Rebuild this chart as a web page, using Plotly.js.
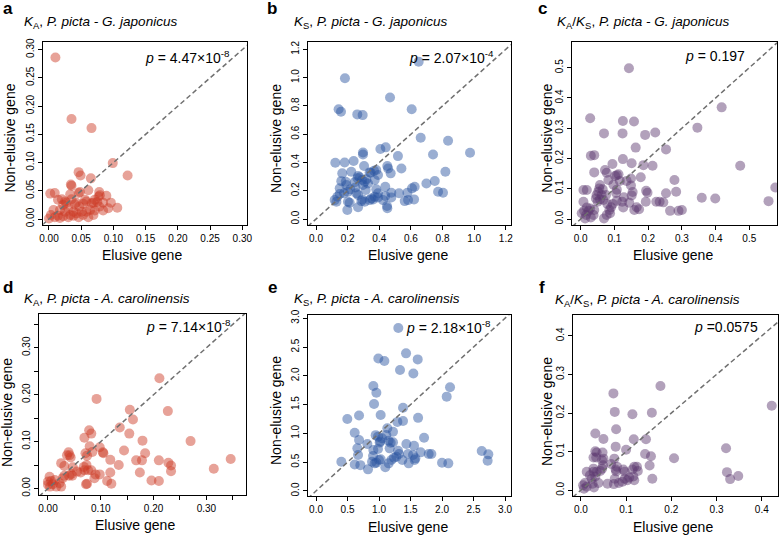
<!DOCTYPE html>
<html><head><meta charset="utf-8">
<script src="https://cdn.plot.ly/plotly-3.0.1.min.js"></script>
<style>html,body{margin:0;padding:0;background:#fff}#chart{width:779px;height:535px}</style>
</head><body><div id="chart"></div><script>
// ---- data ----
const aElusive = [0.010,0.035,0.066,0.099,0.122,0.046,0.049,0.034,0.035,0.065,0.009,0.002,0.014,0.025,0.027,0.033,0.046,0.048,0.061,0.078,0.077,0.079,0.089,0.096,0.092,0.106,0.071,0.066,0.058,0.053,0.047,0.040,0.038,0.030,0.022,0.017,0.007,0.003,0.009,0.014,0.022,0.030,0.038,0.046,0.053,0.061,0.069,0.058,0.064,0.071,0.078,0.084,0.051,0.043,0.017,0.000,0.025,0.033,0.056,0.069,0.084,0.035,0.042,0.020,0.075];
const aNonElusive = [0.286,0.177,0.161,0.099,0.077,0.083,0.077,0.061,0.059,0.072,0.046,0.045,0.034,0.031,0.029,0.044,0.046,0.048,0.051,0.048,0.040,0.042,0.041,0.029,0.019,0.020,0.034,0.028,0.031,0.027,0.022,0.026,0.013,0.019,0.025,0.016,0.016,0.007,0.003,0.006,0.005,0.003,0.006,0.003,0.007,0.003,0.007,0.013,0.016,0.015,0.022,0.015,0.013,0.010,0.002,0.001,0.013,0.007,0.034,0.029,0.029,0.035,0.029,0.035,0.030];

const bElusive = [0.183,0.143,0.158,0.261,0.295,0.468,0.649,0.605,0.122,0.181,0.238,0.297,0.297,0.407,0.441,0.518,0.662,0.835,0.974,0.740,0.818,0.751,0.698,0.772,0.803,0.624,0.607,0.578,0.620,0.582,0.561,0.525,0.476,0.476,0.438,0.540,0.451,0.456,0.472,0.381,0.392,0.367,0.346,0.304,0.223,0.166,0.160,0.188,0.266,0.276,0.262,0.291,0.308,0.318,0.329,0.339,0.371,0.297,0.250,0.217,0.192,0.202,0.177,0.150,0.135,0.118,0.129,0.202,0.213,0.198,0.266,0.255,0.266,0.293,0.308,0.287,0.340,0.350,0.361,0.371,0.392,0.381,0.392,0.424,0.438,0.449,0.451,0.314,0.245,0.150];
const bNonElusive = [0.995,0.776,0.759,0.740,0.735,0.860,1.113,0.776,0.398,0.400,0.410,0.471,0.456,0.495,0.507,0.445,0.575,0.554,0.469,0.457,0.335,0.269,0.252,0.193,0.186,0.228,0.217,0.186,0.139,0.134,0.127,0.182,0.186,0.153,0.228,0.358,0.375,0.358,0.323,0.347,0.311,0.342,0.328,0.375,0.335,0.323,0.268,0.264,0.304,0.295,0.288,0.276,0.264,0.281,0.252,0.330,0.276,0.241,0.224,0.210,0.241,0.193,0.182,0.177,0.158,0.134,0.122,0.122,0.115,0.064,0.083,0.182,0.170,0.139,0.122,0.127,0.134,0.146,0.139,0.158,0.153,0.210,0.182,0.134,0.163,0.092,0.076,0.205,0.261,0.217];

const cElusive = [0.143,0.028,0.069,0.124,0.125,0.158,0.191,0.221,0.163,0.253,0.346,0.418,0.473,0.577,0.557,0.399,0.359,0.278,0.283,0.253,0.030,0.040,0.125,0.094,0.151,0.213,0.040,0.072,0.077,0.107,0.112,0.102,0.082,0.149,0.178,0.136,0.116,0.194,0.198,0.149,0.154,0.151,0.097,0.107,0.105,0.008,0.018,0.057,0.055,0.052,0.047,0.062,0.045,0.057,0.067,0.075,0.079,0.065,0.050,0.128,0.107,0.123,0.144,0.126,0.159,0.173,0.166,0.193,0.224,0.234,0.245,0.265,0.290,0.300,0.095,0.090,0.085,0.069,0.077,0.087,0.008,0.018,0.028,0.010,0.023,0.003,0.016,0.030,0.038,0.013,0.040,0.186];
const cNonElusive = [0.498,0.333,0.283,0.283,0.324,0.322,0.278,0.286,0.236,0.230,0.302,0.369,0.176,0.104,0.059,0.068,0.070,0.129,0.090,0.085,0.209,0.211,0.198,0.182,0.184,0.176,0.154,0.162,0.153,0.145,0.148,0.142,0.129,0.134,0.138,0.126,0.126,0.093,0.087,0.111,0.089,0.078,0.113,0.097,0.086,0.096,0.096,0.112,0.101,0.090,0.079,0.079,0.068,0.065,0.063,0.079,0.050,0.098,0.057,0.072,0.060,0.057,0.054,0.038,0.030,0.032,0.039,0.057,0.057,0.057,0.055,0.027,0.027,0.030,0.050,0.039,0.030,0.002,0.013,0.019,0.057,0.038,0.035,0.027,0.027,0.019,0.013,0.005,0.013,0.002,0.030,0.178];

const dElusive = [0.211,0.092,0.227,0.155,0.161,0.136,0.154,0.078,0.082,0.069,0.179,0.270,0.098,0.104,0.105,0.079,0.084,0.071,0.074,0.039,0.041,0.036,0.043,0.144,0.184,0.118,0.167,0.178,0.210,0.228,0.233,0.233,0.314,0.346,0.134,0.174,0.118,0.112,0.120,0.196,0.210,0.025,0.031,0.047,0.044,0.040,0.055,0.062,0.068,0.073,0.076,0.069,0.082,0.090,0.098,0.088,0.072,0.031,0.028,0.022,0.016,0.025,0.003,0.000,0.006,0.013,0.000,0.004,0.009,0.046,0.074];
const dNonElusive = [0.235,0.191,0.165,0.168,0.147,0.130,0.117,0.124,0.117,0.108,0.102,0.101,0.088,0.077,0.075,0.090,0.078,0.075,0.070,0.077,0.071,0.071,0.066,0.081,0.075,0.061,0.060,0.060,0.060,0.055,0.049,0.037,0.042,0.063,0.050,0.034,0.034,0.016,0.010,0.017,0.016,0.054,0.048,0.045,0.031,0.027,0.036,0.034,0.046,0.050,0.039,0.039,0.039,0.030,0.030,0.022,0.009,0.027,0.022,0.011,0.004,0.004,0.025,0.015,0.016,0.018,0.008,0.004,0.009,0.027,0.010];

const eElusive = [0.497,0.683,0.614,0.683,0.656,0.667,0.614,0.704,0.402,0.825,0.815,0.910,0.905,0.889,0.931,0.958,1.000,1.026,0.984,0.947,0.984,1.021,1.010,1.048,1.116,1.132,1.153,1.185,1.222,1.222,1.169,1.100,1.196,1.238,1.275,1.302,1.317,1.153,1.370,1.434,1.460,1.471,1.556,1.540,1.566,1.577,1.661,1.715,1.788,1.831,2.000,2.100,1.291,1.381,1.381,1.620,1.026,0.910,0.958,0.921,2.074,2.127,1.306,1.429,0.989,1.085,1.614,1.333,1.545,2.630,2.735,2.724];
const eNonElusive = [1.250,1.310,1.012,0.885,0.740,0.625,0.460,0.449,0.509,0.376,0.816,0.711,0.607,0.509,0.480,0.492,0.538,0.549,0.729,0.970,0.944,0.860,0.840,0.915,0.972,1.088,0.874,0.839,0.845,1.030,0.740,0.411,0.538,0.578,0.595,0.700,0.642,0.480,0.538,0.816,0.642,0.480,0.787,0.625,0.538,0.567,0.671,0.925,0.642,0.642,0.490,0.480,1.200,1.215,1.446,1.270,1.320,1.823,1.707,1.510,1.638,1.800,2.830,2.390,2.300,2.257,2.285,2.100,2.040,0.694,0.636,0.526];

const fElusive = [0.072,0.176,0.422,0.321,0.323,0.330,0.348,0.206,0.158,0.075,0.114,0.157,0.032,0.078,0.050,0.117,0.144,0.077,0.100,0.032,0.035,0.048,0.028,0.034,0.047,0.050,0.067,0.142,0.155,0.152,0.074,0.049,0.047,0.043,0.028,0.028,0.035,0.013,0.020,0.024,0.032,0.009,0.005,0.013,0.007,0.029,0.026,0.039,0.059,0.073,0.084,0.077,0.078,0.080,0.075,0.094,0.097,0.097,0.103,0.107,0.114,0.118,0.124,0.126,0.118,0.116,0.092];
const fNonElusive = [0.251,0.270,0.219,0.109,0.047,0.029,0.037,0.083,0.030,0.203,0.197,0.201,0.147,0.158,0.133,0.132,0.132,0.113,0.105,0.101,0.098,0.098,0.085,0.085,0.078,0.082,0.068,0.094,0.088,0.064,0.082,0.065,0.056,0.050,0.056,0.048,0.048,0.048,0.039,0.030,0.036,0.019,0.013,0.009,0.004,0.007,0.017,0.019,0.017,0.016,0.019,0.054,0.049,0.061,0.030,0.054,0.048,0.030,0.026,0.033,0.054,0.061,0.061,0.050,0.026,0.036,0.022];

// tick values / labels
const ticksA = [0,0.05,0.10,0.15,0.20,0.25,0.30];
const labelsA = ['0.00','0.05','0.10','0.15','0.20','0.25','0.30'];
const ticksB = [0,0.2,0.4,0.6,0.8,1.0,1.2];
const labelsB = ['0.0','0.2','0.4','0.6','0.8','1.0','1.2'];
const ticksC = [0,0.1,0.2,0.3,0.4,0.5];
const labelsC = ['0.0','0.1','0.2','0.3','0.4','0.5'];
const ticksD = [0,0.10,0.20,0.30];
const labelsD = ['0.00','0.10','0.20','0.30'];
const minorStepD = 0.05;
const ticksE = [0,0.5,1.0,1.5,2.0,2.5,3.0];
const labelsE = ['0.0','0.5','1.0','1.5','2.0','2.5','3.0'];
const ticksF = [0,0.1,0.2,0.3,0.4];
const labelsF = ['0.0','0.1','0.2','0.3','0.4'];

const letters = ['a','b','c','d','e','f'];
const titles = [
  '<i>K</i><sub>A</sub>, <i>P. picta - G. japonicus</i>',
  '<i>K</i><sub>S</sub>, <i>P. picta - G. japonicus</i>',
  '<i>K</i><sub>A</sub>/<i>K</i><sub>S</sub>, <i>P. picta - G. japonicus</i>',
  '<i>K</i><sub>A</sub>, <i>P. picta - A. carolinensis</i>',
  '<i>K</i><sub>S</sub>, <i>P. picta - A. carolinensis</i>',
  '<i>K</i><sub>A</sub>/<i>K</i><sub>S</sub>, <i>P. picta - A. carolinensis</i>'
];
const pTexts = [
  '<i>p</i> = 4.47×10<sup>-8</sup>',
  '<i>p</i> = 2.07×10<sup>-4</sup>',
  '<i>p</i> = 0.197',
  '<i>p</i> = 7.14×10<sup>-8</sup>',
  '<i>p</i> = 2.18×10<sup>-8</sup>',
  '<i>p</i> =0.0575'
];
const xLabel = 'Elusive gene';
const yLabel = 'Non-elusive gene';

// ---- layout geometry (pixels) ----
const W = 779, H = 535;
const FONT = 'Liberation Sans, Arial, Helvetica, sans-serif';
const RED = 'rgba(204,58,36,0.47)', BLUE = 'rgba(40,82,160,0.47)', PURPLE = 'rgba(92,56,110,0.47)';
const panels = [
  {x:aElusive, y:aNonElusive, col:RED,    box:[43.3,246.7,42.3,225], xr:[-0.0088,0.3068], yr:[-0.0106,0.313], xt:ticksA, xl:labelsA, yt:ticksA, yl:labelsA,
   letter:[7.5,9], title:[22,22], p:[232,57], xlab:[142,255], ylab:[9.5,138]},
  {x:bElusive, y:bNonElusive, col:BLUE,   box:[307.7,510.7,42.3,225], xr:[-0.0525,1.231], yr:[-0.042,1.2497], xt:ticksB, xl:labelsB, yt:ticksB, yl:labelsB,
   letter:[272,9], title:[291.7,22], p:[496,57.5], xlab:[408.3,255], ylab:[276,139]},
  {x:cElusive, y:cNonElusive, col:PURPLE, box:[572.3,777.3,42.3,225], xr:[-0.025,0.583], yr:[-0.0198,0.584], xt:ticksC, xl:labelsC, yt:ticksC, yl:labelsC,
   letter:[542,9], title:[555,22], p:[747,56], xlab:[673,255], ylab:[546.7,138]},
  {x:dElusive, y:dNonElusive, col:RED,    box:[39,246,314,495], xr:[-0.017,0.375], yr:[-0.0139,0.372], xt:ticksD, xl:labelsD, yt:ticksD, yl:labelsD, minor:minorStepD,
   letter:[7.5,287], title:[22,299], p:[233.3,326], xlab:[135,525], ylab:[7,413]},
  {x:eElusive, y:eNonElusive, col:BLUE,   box:[307.7,510.7,315,496], xr:[-0.132,3.09], yr:[-0.087,3.056], xt:ticksE, xl:labelsE, yt:ticksE, yl:labelsE,
   letter:[272,287], title:[292,299.5], p:[493.3,327], xlab:[408.3,527], ylab:[276,411]},
  {x:fElusive, y:fNonElusive, col:PURPLE, box:[572.7,778.3,315,496], xr:[-0.018,0.4365], yr:[-0.0148,0.454], xt:ticksF, xl:labelsF, yt:ticksF, yl:labelsF,
   letter:[542,287], title:[553,300], p:[760,326.5], xlab:[673,527], ylab:[547,412]}
];

const px = v => v / W, py = v => 1 - v / H;
const traces = [], annotations = [];
const layout = {
  width: W, height: H, margin: {l:0, r:0, t:0, b:0},
  paper_bgcolor: '#fff', plot_bgcolor: '#fff', showlegend: false,
  font: {family: FONT, color: '#000'}, annotations: annotations
};

panels.forEach((p, i) => {
  const n = i === 0 ? '' : String(i + 1);
  const xa = 'x' + n, ya = 'y' + n;
  const axisBase = {
    showline: true, mirror: true, linecolor: '#000', linewidth: 1,
    ticks: 'outside', ticklen: 4, tickwidth: 1, tickcolor: '#000',
    showgrid: false, zeroline: false, fixedrange: true,
    tickfont: {family: FONT, size: 10, color: '#000'}, tickmode: 'array'
  };
  if (p.minor) {
    axisBase.minor = {tickmode: 'linear', tick0: 0, dtick: p.minor, ticks: 'outside', ticklen: 4, tickwidth: 1, tickcolor: '#000', showgrid: false};
  }
  layout['xaxis' + n] = Object.assign({}, axisBase, {
    domain: [px(p.box[0]), px(p.box[1])], range: p.xr, anchor: ya,
    tickvals: p.xt, ticktext: p.xl
  });
  layout['yaxis' + n] = Object.assign({}, axisBase, {
    domain: [py(p.box[3]), py(p.box[2])], range: p.yr, anchor: xa,
    tickvals: p.yt, ticktext: p.yl, tickangle: -90
  });
  traces.push({
    type: 'scatter', mode: 'markers', x: p.x, y: p.y, xaxis: xa, yaxis: ya,
    marker: {size: 10, color: p.col, line: {width: 0}}, hoverinfo: 'x+y'
  });
  const lo = Math.min(p.xr[0], p.yr[0]), hi = Math.max(p.xr[1], p.yr[1]);
  traces.push({
    type: 'scatter', mode: 'lines', x: [lo, hi], y: [lo, hi], xaxis: xa, yaxis: ya,
    line: {color: '#707070', width: 1.5, dash: '5px,3px'}, hoverinfo: 'skip'
  });
  annotations.push(
    {text: '<b>' + letters[i] + '</b>', xref:'paper', yref:'paper', x: px(p.letter[0]), y: py(p.letter[1]),
     xanchor:'center', yanchor:'middle', showarrow:false, font:{family: FONT, size: 17, color:'#000'}},
    {text: titles[i], xref:'paper', yref:'paper', x: px(p.title[0]), y: py(p.title[1]),
     xanchor:'left', yanchor:'middle', showarrow:false, font:{family: FONT, size: 13.5, color:'#000'}},
    {text: pTexts[i], xref:'paper', yref:'paper', x: px(p.p[0]), y: py(p.p[1]),
     xanchor:'right', yanchor:'middle', showarrow:false, font:{family: FONT, size: 14, color:'#000'}},
    {text: xLabel, xref:'paper', yref:'paper', x: px(p.xlab[0]), y: py(p.xlab[1]),
     xanchor:'center', yanchor:'middle', showarrow:false, font:{family: FONT, size: 14, color:'#000'}},
    {text: yLabel, xref:'paper', yref:'paper', x: px(p.ylab[0]), y: py(p.ylab[1]), textangle: -90,
     xanchor:'center', yanchor:'middle', showarrow:false, font:{family: FONT, size: 14, color:'#000'}}
  );
});

Plotly.newPlot('chart', traces, layout, {displayModeBar: false, staticPlot: true});
</script></body></html>
